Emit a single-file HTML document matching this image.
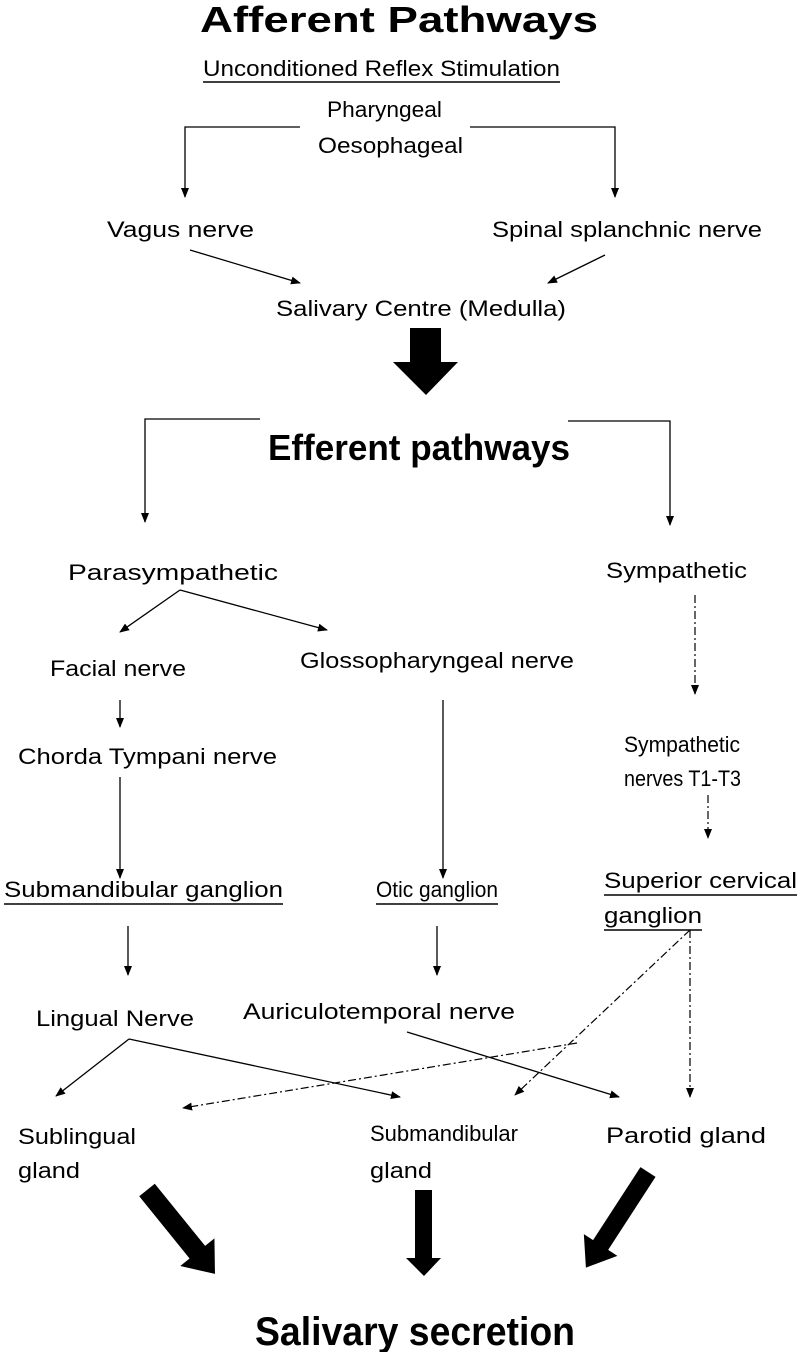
<!DOCTYPE html>
<html><head><meta charset="utf-8"><style>
html,body{margin:0;padding:0;background:#fff;}
svg{display:block;}
text{font-family:"Liberation Sans",sans-serif;font-size:22px;fill:#000;}
.b{font-weight:bold;}
</style></head><body>
<svg width="800" height="1352" viewBox="0 0 800 1352" xmlns="http://www.w3.org/2000/svg">
<defs>
<marker id="a" markerWidth="10" markerHeight="10" refX="9" refY="5" orient="auto" markerUnits="userSpaceOnUse">
<path d="M0,1 L10,5 L0,9 z" fill="#000"/></marker>
</defs>
<g stroke="#000" stroke-width="1.3" fill="none">
<polyline points="300,127 185,127 185,197" marker-end="url(#a)"/>
<polyline points="470,127 615,127 615,197" marker-end="url(#a)"/>
<line x1="190" y1="250" x2="300" y2="283" marker-end="url(#a)"/>
<line x1="605" y1="255" x2="548" y2="283" marker-end="url(#a)"/>
<polyline points="260,419 145,419 145,522" marker-end="url(#a)"/>
<polyline points="568,421 670,421 670,525" marker-end="url(#a)"/>
<line x1="180" y1="590" x2="120" y2="632" marker-end="url(#a)"/>
<line x1="180" y1="590" x2="327" y2="630" marker-end="url(#a)"/>
<line x1="120" y1="700" x2="120" y2="727" marker-end="url(#a)"/>
<line x1="120" y1="777" x2="120" y2="878" marker-end="url(#a)"/>
<line x1="443" y1="700" x2="443" y2="878" marker-end="url(#a)"/>
<line x1="128" y1="926" x2="128" y2="975" marker-end="url(#a)"/>
<line x1="437" y1="926" x2="437" y2="975" marker-end="url(#a)"/>
<line x1="129" y1="1039" x2="56" y2="1096" marker-end="url(#a)"/>
<line x1="129" y1="1039" x2="400" y2="1097" marker-end="url(#a)"/>
<line x1="407" y1="1032" x2="619" y2="1097" marker-end="url(#a)"/>
</g>
<g stroke="#000" stroke-width="1.2" fill="none" stroke-dasharray="8,3,2,3">
<line x1="695" y1="595" x2="695" y2="694" marker-end="url(#a)"/>
<line x1="708" y1="795" x2="708" y2="838" marker-end="url(#a)"/>
<line x1="690" y1="930" x2="690" y2="1097" marker-end="url(#a)"/>
<line x1="690" y1="930" x2="515" y2="1095" marker-end="url(#a)"/>
<line x1="577" y1="1043" x2="183" y2="1108" marker-end="url(#a)"/>
</g>
<path d="M410,328 L441,328 L441,362 L458,362 L426,395 L393,362 L410,362 Z" fill="#000"/>
<path d="M415,1190 L432,1190 L432,1258 L441,1258 L424,1276 L406,1258 L415,1258 Z" fill="#000"/>
<g transform="translate(147,1190) rotate(-39)">
<path d="M-10,0 L10,0 L10,80 L22,80 L0,108 L-22,80 L-10,80 Z" fill="#000"/>
</g>
<g transform="translate(648,1172) rotate(33)">
<path d="M-9,0 L9,0 L9,87 L20,87 L0,114 L-20,87 L-9,87 Z" fill="#000"/>
</g>
<text x="200" y="32" class="b" style="font-size:36px" textLength="398" lengthAdjust="spacingAndGlyphs">Afferent Pathways</text>
<text x="203" y="76" textLength="357" lengthAdjust="spacingAndGlyphs">Unconditioned Reflex Stimulation</text>
<line x1="203" y1="82" x2="560" y2="82" stroke="#000" stroke-width="1.5"/>
<text x="327" y="117" textLength="115" lengthAdjust="spacingAndGlyphs">Pharyngeal</text>
<text x="318" y="153" textLength="145" lengthAdjust="spacingAndGlyphs">Oesophageal</text>
<text x="107" y="237" textLength="147" lengthAdjust="spacingAndGlyphs">Vagus  nerve</text>
<text x="492" y="237" textLength="270" lengthAdjust="spacingAndGlyphs">Spinal splanchnic nerve</text>
<text x="276" y="316" textLength="290" lengthAdjust="spacingAndGlyphs">Salivary Centre (Medulla)</text>
<text x="268" y="460" class="b" style="font-size:36px" textLength="302" lengthAdjust="spacingAndGlyphs">Efferent pathways</text>
<text x="68" y="580" textLength="210" lengthAdjust="spacingAndGlyphs">Parasympathetic</text>
<text x="606" y="578" textLength="141" lengthAdjust="spacingAndGlyphs">Sympathetic</text>
<text x="50" y="676" textLength="136" lengthAdjust="spacingAndGlyphs">Facial nerve</text>
<text x="300" y="668" textLength="274" lengthAdjust="spacingAndGlyphs">Glossopharyngeal nerve</text>
<text x="18" y="764" textLength="259" lengthAdjust="spacingAndGlyphs">Chorda Tympani nerve</text>
<text x="624" y="752" textLength="116" lengthAdjust="spacingAndGlyphs">Sympathetic</text>
<text x="624" y="786" textLength="117" lengthAdjust="spacingAndGlyphs">nerves T1-T3</text>
<text x="4" y="897" textLength="279" lengthAdjust="spacingAndGlyphs">Submandibular ganglion</text>
<line x1="4" y1="904" x2="283" y2="904" stroke="#000" stroke-width="1.5"/>
<text x="376" y="897" textLength="122" lengthAdjust="spacingAndGlyphs">Otic ganglion</text>
<line x1="376" y1="904" x2="498" y2="904" stroke="#000" stroke-width="1.5"/>
<text x="604" y="888" textLength="193" lengthAdjust="spacingAndGlyphs">Superior cervical</text>
<line x1="604" y1="895" x2="797" y2="895" stroke="#000" stroke-width="1.5"/>
<text x="604" y="923" textLength="98" lengthAdjust="spacingAndGlyphs">ganglion</text>
<line x1="604" y1="930" x2="702" y2="930" stroke="#000" stroke-width="1.5"/>
<text x="36" y="1026" textLength="158" lengthAdjust="spacingAndGlyphs">Lingual Nerve</text>
<text x="243" y="1019" textLength="272" lengthAdjust="spacingAndGlyphs">Auriculotemporal nerve</text>
<text x="18" y="1144" textLength="118" lengthAdjust="spacingAndGlyphs">Sublingual</text>
<text x="18" y="1178" textLength="62" lengthAdjust="spacingAndGlyphs">gland</text>
<text x="370" y="1141" textLength="148" lengthAdjust="spacingAndGlyphs">Submandibular</text>
<text x="370" y="1178" textLength="62" lengthAdjust="spacingAndGlyphs">gland</text>
<text x="606" y="1143" textLength="160" lengthAdjust="spacingAndGlyphs">Parotid gland</text>
<text x="255" y="1345" class="b" style="font-size:40px" textLength="320" lengthAdjust="spacingAndGlyphs">Salivary secretion</text>
</svg>
</body></html>
